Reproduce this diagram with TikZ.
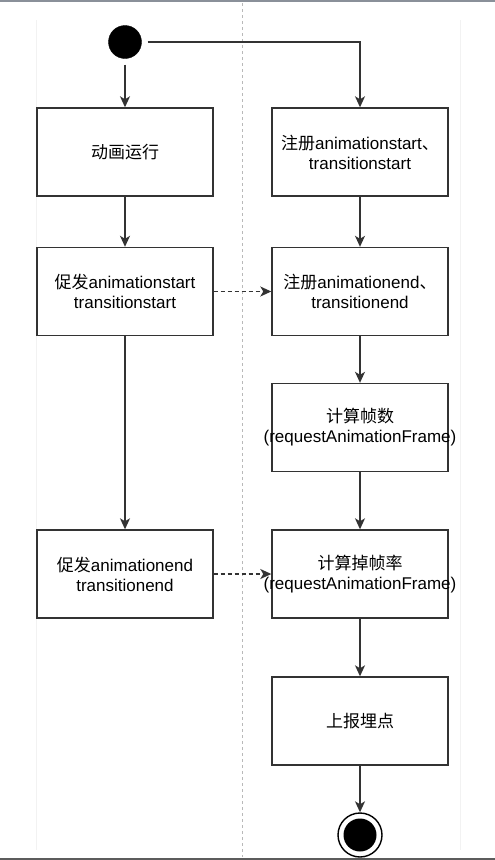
\documentclass[tikz,border=0pt]{standalone}
\usepackage{fontspec}
\setmainfont{Liberation Sans}
\newfontfamily\cjk{Noto Sans CJK SC}
\usetikzlibrary{arrows.meta}
\definecolor{ink}{HTML}{333333}
\definecolor{frame}{HTML}{8A9099}
\tikzset{
  box/.style={draw=ink, line width=1.4pt, fill=white, minimum width=176pt, minimum height=88pt, inner sep=0pt, align=center, font=\fontsize{17pt}{20pt}\selectfont},
  lbl/.style={inner sep=0pt, align=center, font=\fontsize{17pt}{20pt}\selectfont},
  flow/.style={draw=ink, line width=1.4pt, -{Stealth[length=11pt,width=10pt,inset=3pt]}},
  dflow/.style={flow, dash pattern=on 4pt off 3pt},
}
\begin{document}
\begin{tikzpicture}[x=1pt,y=-1pt]
\useasboundingbox (0,0) rectangle (495,860);
\fill[white] (0,0) rectangle (495,860);
% faint lane lines
\draw[gray!10, line width=0.8pt] (36,20) -- (36,850);
\draw[gray!10, line width=0.8pt] (460,20) -- (460,850);
% separator
\draw[gray!55, line width=0.8pt, dash pattern=on 3pt off 3pt] (242,3) -- (242,857);
% frame lines
\draw[frame, line width=2pt] (0,1) -- (495,1);
\draw[ink!80, line width=2pt] (0,859) -- (495,859);

\node[circle, fill=black, draw=black, minimum size=33pt, inner sep=0pt] (start) at (125,42) {};

\node[box] (a1) at (125,152) {\cjk 动画运行};
\node[box] (a2) at (125,291.5) {{\cjk 促发}animationstart\\transitionstart};
\node[box] (a3) at (125,574) {{\cjk 促发}animationend\\transitionend};

\node[box] (b1) at (360,152) {{\cjk 注册}animationstart{\cjk 、}\\transitionstart};
\node[box] (b2) at (360,291.5) {{\cjk 注册}animationend{\cjk 、}\\transitionend};
\node[box] (b3) at (360,427.5) {};
\node[lbl] (b3t) at (b3.center) {{\cjk 计算帧数}\\(requestAnimationFrame)};
\node[box] (b4) at (360,574) {};
\node[lbl] (b4t) at (b4.center) {{\cjk 计算掉帧率}\\(requestAnimationFrame)};
\node[box] (b5) at (360,721) {\cjk 上报埋点};

\node[circle, draw=black, line width=1.4pt, fill=white, minimum size=44pt, inner sep=0pt] (end) at (360,835) {};
\node[circle, fill=black, minimum size=33pt, inner sep=0pt] (endin) at (end.center) {};

\draw[flow, shorten <=6pt] (start) -- (a1);
\draw[flow, shorten <=6pt] (start.east) -| (b1.north);
\draw[flow] (a1) -- (a2);
\draw[flow] (a2) -- (a3);
\draw[flow] (b1) -- (b2);
\draw[flow] (b2) -- (b3);
\draw[flow] (b3) -- (b4);
\draw[flow] (b4) -- (b5);
\draw[flow] (b5) -- (end);
\draw[dflow] (a2) -- (b2);
\draw[dflow] (a3) -- (b4);
\end{tikzpicture}
\end{document}
